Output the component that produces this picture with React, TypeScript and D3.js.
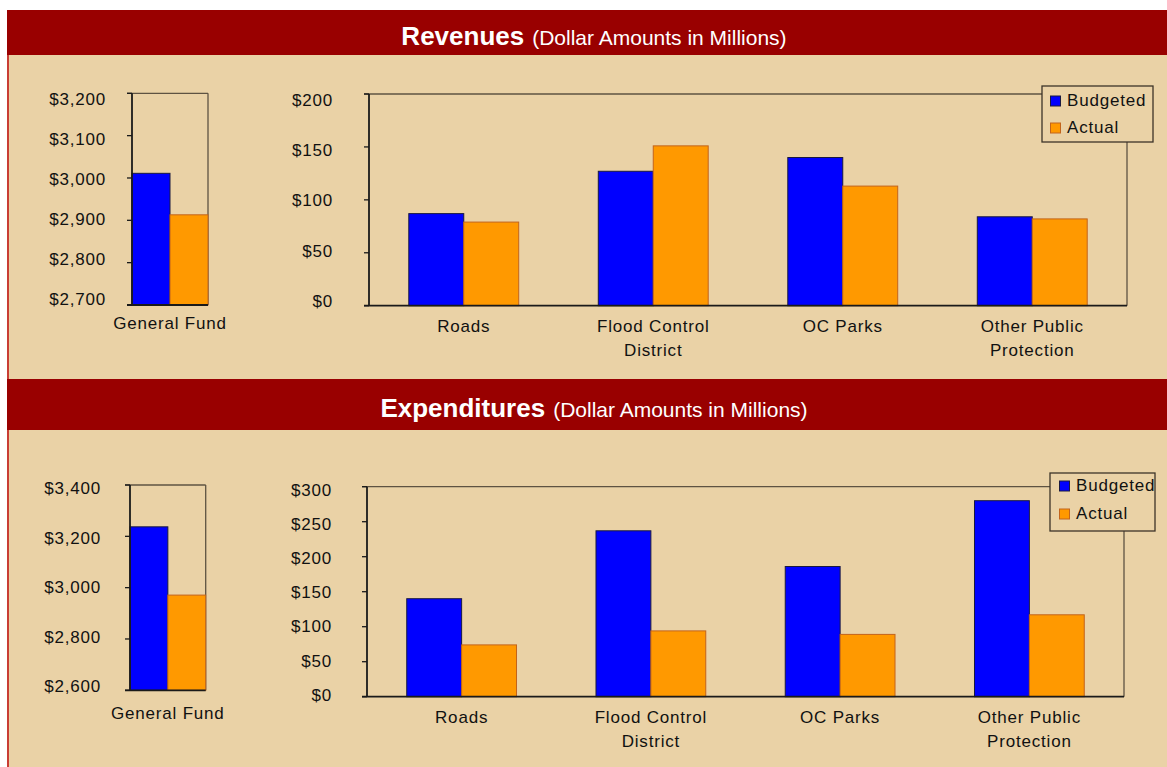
import React from "react";
import * as d3 from "d3";

// ---------- data ----------
const seriesNames = ["Budgeted", "Actual"];
const categoryKeys = ["Roads", "Flood Control District", "OC Parks", "Other Public Protection"];
const categoryLines = [["Roads"], ["Flood Control", "District"], ["OC Parks"], ["Other Public", "Protection"]];
const generalFundKeys = ["General Fund"];
const generalFundLines = [["General Fund"]];

const revenueGeneralFund = [3011, 2913]; // Budgeted, Actual
const revenueBudgeted = [87, 127, 140, 84];
const revenueActual = [79, 151, 113, 82];

const expenditureGeneralFund = [3237, 2971]; // Budgeted, Actual
const expenditureBudgeted = [140, 237, 186, 280];
const expenditureActual = [74, 94, 89, 117];

const revenueGFTicks = [2700, 2800, 2900, 3000, 3100, 3200];
const revenueTicks = [0, 50, 100, 150, 200];
const expenditureGFTicks = [2600, 2800, 3000, 3200, 3400];
const expenditureTicks = [0, 50, 100, 150, 200, 250, 300];

// ---------- styles ----------
const FONT = "'Liberation Sans', Arial, Helvetica, sans-serif";
const BEIGE = "#EAD2A6";
const BAND = "#990000";
const BLUE = "#0000FF";
const ORANGE = "#FF9900";
const BLUE_STROKE = "#1A1A40";
const ORANGE_STROKE = "#C2641C";
const BORDER = "#5E5342";
const AXIS = "#1A1A1A";
const seriesFill = [BLUE, ORANGE];
const seriesStroke = [BLUE_STROKE, ORANGE_STROKE];
const fmt = d3.format("$,.0f");

type ChartProps = {
  left: number; right: number; top: number; bottom: number;
  domain: [number, number];
  ticks: number[];
  keys: string[];
  lines: string[][];
  values: number[][]; // [series][category]
  paddingInner: number;
  labelX: number;
  labelTopOff: number;
  labelBottomOff: number;
  catBaseOff: number;
};

function BarChart(p: ChartProps) {
  const y = d3.scaleLinear().domain(p.domain).range([p.bottom, p.top]);
  const yLabel = d3.scaleLinear().domain(p.domain).range([p.bottom + p.labelBottomOff, p.top + p.labelTopOff]);
  const x = d3.scaleBand<string>().domain(p.keys).range([p.left, p.right])
    .paddingInner(p.paddingInner).paddingOuter(p.paddingInner / 2);
  const xs = d3.scaleBand<string>().domain(seriesNames).range([0, x.bandwidth()]);
  return (
    <g>
      {/* plot border top & right */}
      <line x1={p.left - 5} x2={p.right} y1={p.top} y2={p.top} stroke={BORDER} strokeWidth={1.3} />
      <line x1={p.right} x2={p.right} y1={p.top} y2={p.bottom} stroke={BORDER} strokeWidth={1.3} />
      {/* bars */}
      {p.keys.map((k, ci) =>
        seriesNames.map((s, si) => {
          const v = p.values[si][ci];
          const x0 = (x(k) as number) + (xs(s) as number);
          return (
            <rect key={k + s} x={x0} y={y(v)} width={xs.bandwidth()} height={p.bottom - y(v)}
              fill={seriesFill[si]} stroke={seriesStroke[si]} strokeWidth={1} />
          );
        })
      )}
      {/* axes */}
      <line x1={p.left} x2={p.left} y1={p.top} y2={p.bottom} stroke={AXIS} strokeWidth={1.8} />
      <line x1={p.left - 5} x2={p.right} y1={p.bottom} y2={p.bottom} stroke={AXIS} strokeWidth={1.8} />
      {p.ticks.map((t) => (
        <g key={t}>
          <line x1={p.left - 5} x2={p.left} y1={y(t)} y2={y(t)} stroke={AXIS} strokeWidth={1.3} />
          <text x={p.labelX} y={yLabel(t)} dy="0.36em" textAnchor="end" fontSize={17}
            letterSpacing={0.8} fill="#111">{fmt(t)}</text>
        </g>
      ))}
      {p.keys.map((k, ci) => (
        <text key={k} textAnchor="middle" fontSize={17} letterSpacing={0.8} fill="#111">
          {p.lines[ci].map((ln, li) => (
            <tspan key={li} x={(x(k) as number) + x.bandwidth() / 2} y={p.bottom + p.catBaseOff + li * 24}>{ln}</tspan>
          ))}
        </text>
      ))}
    </g>
  );
}

function Legend({ x, y, w, h, mx, my, gap, tx, tb }: { x: number; y: number; w: number; h: number; mx: number; my: number; gap: number; tx: number; tb: number }) {
  return (
    <g>
      <rect x={x} y={y} width={w} height={h} fill={BEIGE} stroke="#3C3428" strokeWidth={1.3} />
      {seriesNames.map((s, i) => (
        <g key={s}>
          <rect x={mx} y={my + i * gap} width={10} height={10} fill={seriesFill[i]} stroke={seriesStroke[i]} strokeWidth={1} />
          <text x={tx} y={tb + i * gap} fontSize={17} letterSpacing={0.8} fill="#111">{s}</text>
        </g>
      ))}
    </g>
  );
}

function Band({ y0, y1, title, base }: { y0: number; y1: number; title: string; base: number }) {
  return (
    <g>
      <rect x={7} y={y0} width={1160} height={y1 - y0} fill={BAND} />
      <text x={594} y={base} textAnchor="middle" fill="#FFFFFF">
        <tspan fontSize={26} fontWeight="bold">{title}</tspan>
        <tspan fontSize={21} dx={8}>(Dollar Amounts in Millions)</tspan>
      </text>
    </g>
  );
}

export default function App() {
  return (
    <svg width={1167} height={767} style={{ position: "absolute", left: 0, top: 0, fontFamily: FONT }}>
      <rect x={0} y={0} width={1167} height={767} fill="#FFFFFF" />
      <rect x={7} y={10} width={1160} height={757} fill={BEIGE} />
      <line x1={8} x2={8} y1={10} y2={767} stroke="#C01818" strokeWidth={1.6} />
      <Band y0={10} y1={55} title="Revenues" base={45} />
      <Band y0={379} y1={430} title="Expenditures" base={417} />

      {/* Revenues */}
      <BarChart left={132} right={208} top={93.3} bottom={305} domain={[2700, 3200]} ticks={revenueGFTicks}
        keys={generalFundKeys} lines={generalFundLines} values={[[revenueGeneralFund[0]], [revenueGeneralFund[1]]]}
        paddingInner={0} labelX={106} labelTopOff={6} labelBottomOff={-6.5} catBaseOff={24} />
      <BarChart left={369} right={1127} top={94} bottom={305.7} domain={[0, 200]} ticks={revenueTicks}
        keys={categoryKeys} lines={categoryLines} values={[revenueBudgeted, revenueActual]}
        paddingInner={0.42} labelX={333} labelTopOff={5.5} labelBottomOff={-4.5} catBaseOff={26.3} />
      <Legend x={1042} y={86} w={111} h={56} mx={1050.5} my={96} gap={27} tx={1067} tb={106} />

      {/* Expenditures */}
      <BarChart left={130} right={205.7} top={485} bottom={690.3} domain={[2600, 3400]} ticks={expenditureGFTicks}
        keys={generalFundKeys} lines={generalFundLines} values={[[expenditureGeneralFund[0]], [expenditureGeneralFund[1]]]}
        paddingInner={0} labelX={101} labelTopOff={3.3} labelBottomOff={-4.3} catBaseOff={28.7} />
      <BarChart left={367} right={1124} top={486.7} bottom={696.7} domain={[0, 300]} ticks={expenditureTicks}
        keys={categoryKeys} lines={categoryLines} values={[expenditureBudgeted, expenditureActual]}
        paddingInner={0.42} labelX={332} labelTopOff={3.3} labelBottomOff={-2.2} catBaseOff={26.3} />
      <Legend x={1050} y={473} w={105} h={58} mx={1059.5} my={481} gap={28} tx={1076} tb={491} />
    </svg>
  );
}
